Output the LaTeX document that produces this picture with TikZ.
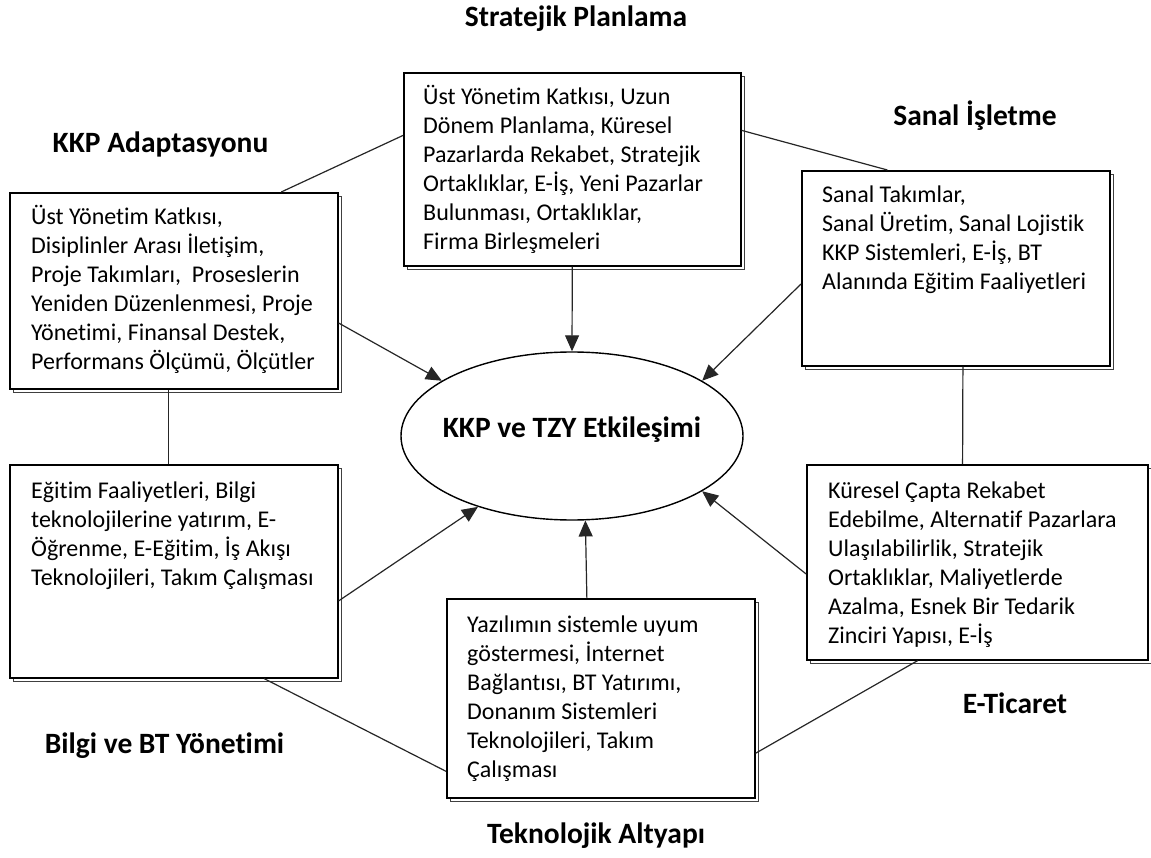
\documentclass[tikz,border=0pt]{standalone}
\usepackage{fontspec}
\setmainfont{Carlito}[Ligatures=NoCommon]
\usetikzlibrary{arrows.meta,calc,shadows,shapes.geometric}

\tikzset{
  panel/.style={draw=black, line width=1.6pt, fill=white, inner sep=0pt, anchor=north west,
    copy shadow={shadow xshift=3.5pt, shadow yshift=-3.5pt, draw=black!75, line width=1pt, fill=white}},
  boxtext/.style={inner sep=0pt, anchor=base west, font=\fontsize{24}{29}\selectfont},
  heading/.style={inner sep=0pt, anchor=base, font=\fontsize{29.5}{34}\selectfont\bfseries},
  link/.style={draw=black!85, line width=1.2pt},
  flow/.style={link, -{Triangle[length=16pt,width=14pt]}},
}

\newcommand{\boxlines}[1]{\parbox[t]{420pt}{\raggedright #1}}

\begin{document}
\begin{tikzpicture}[x=1pt,y=-1pt]
  \path[use as bounding box, fill=white] (0,0) rectangle (1151,858);

  % outer ring of boxes
  \node[panel, minimum width=328pt, minimum height=196pt] (A) at (9,192) {};
  \node[panel, minimum width=337pt, minimum height=193pt] (B) at (403,72) {};
  \node[panel, minimum width=308pt, minimum height=195pt] (C) at (801,170) {};
  \node[panel, minimum width=328pt, minimum height=213pt] (D) at (9,464) {};
  \node[panel, minimum width=308pt, minimum height=199pt] (T) at (446,598) {};
  \node[panel, minimum width=341pt, minimum height=195pt] (F) at (806,464) {};

  % box contents
  \node[boxtext] (At) at (31,225) {\boxlines{%
    Üst Yönetim Katkısı,\\
    Disiplinler Arası İletişim,\\
    Proje Takımları,\ \ Proseslerin\\
    Yeniden Düzenlenmesi, Proje\\
    Yönetimi, Finansal Destek,\\
    Performans Ölçümü, Ölçütler}};
  \node[boxtext] (Bt) at (423,105) {\boxlines{%
    Üst Yönetim Katkısı, Uzun\\
    Dönem Planlama, Küresel\\
    Pazarlarda Rekabet, Stratejik\\
    Ortaklıklar, E-İş, Yeni Pazarlar\\
    Bulunması, Ortaklıklar,\\
    Firma Birleşmeleri}};
  \node[boxtext] (Ct) at (822,203) {\boxlines{%
    Sanal Takımlar,\\
    Sanal Üretim, Sanal Lojistik\\
    KKP Sistemleri, E-İş, BT\\
    Alanında Eğitim Faaliyetleri}};
  \node[boxtext] (Dt) at (31,498) {\boxlines{%
    Eğitim Faaliyetleri, Bilgi\\
    teknolojilerine yatırım, E-\\
    Öğrenme, E-Eğitim, İş Akışı\\
    Teknolojileri, Takım Çalışması}};
  \node[boxtext] (Tt) at (467,632) {\boxlines{%
    Yazılımın sistemle uyum\\
    göstermesi, İnternet\\
    Bağlantısı, BT Yatırımı,\\
    Donanım Sistemleri\\
    Teknolojileri, Takım\\
    Çalışması}};
  \node[boxtext] (Ft) at (828,498) {\boxlines{%
    Küresel Çapta Rekabet\\
    Edebilme, Alternatif Pazarlara\\
    Ulaşılabilirlik, Stratejik\\
    Ortaklıklar, Maliyetlerde\\
    Azalma, Esnek Bir Tedarik\\
    Zinciri Yapısı, E-İş}};

  % central ellipse
  \node[ellipse, draw=black, line width=1.4pt, fill=white, minimum width=342pt, minimum height=168pt,
        inner sep=0pt, text height=12pt, text depth=10pt,
        font=\fontsize{29.5}{34}\selectfont\bfseries] (E) at (572,436)
        {\makebox[0pt]{KKP ve TZY Etkileşimi}};

  % headings
  \node[heading] (hSP) at (576,27) {Stratejik Planlama};
  \node[heading] (hKA) at (160.5,153) {KKP Adaptasyonu};
  \node[heading] (hSI) at (975,126) {Sanal İşletme};
  \node[heading] (hBB) at (164.5,753) {Bilgi ve BT Yönetimi};
  \node[heading] (hET) at (1015,713) {E-Ticaret};
  \node[heading] (hTA) at (596,843) {Teknolojik Altyapı};

  % ring connections between boxes
  \draw[link] ($(A.north west)!0.826!(A.north east)$) -- ($(B.north west)!0.326!(B.south west)$);
  \draw[link] ($(B.north east)!0.30!(B.south east)$) -- ($(C.north west)!0.279!(C.north east)$);
  \draw[link] ($(A.south west)!0.485!(A.south east)$) -- ($(D.north west)!0.485!(D.north east)$);
  \draw[link] ($(C.south west)!0.523!(C.south east)$) -- ($(F.north west)!0.457!(F.north east)$);
  \draw[link] ($(D.south west)!0.774!(D.south east)$) -- ($(T.north west)!0.864!(T.south west)$);
  \draw[link] ($(T.north east)!0.774!(T.south east)$) -- ($(F.south west)!0.326!(F.south east)$);

  % arrows into the centre
  \draw[flow] (B.south) -- (E.north);
  \draw[flow] ($(A.north east)!0.663!(A.south east)$) -- (E.157.7);
  \draw[flow] ($(C.north west)!0.58!(C.south west)$) -- (E.23);
  \draw[flow] ($(D.north east)!0.638!(D.south east)$) -- (E.217);
  \draw[flow] ($(F.north west)!0.559!(F.south west)$) -- (E.337.3);
  \draw[flow] ($(T.north west)!0.455!(T.north east)$) -- (E.279.5);
\end{tikzpicture}
\end{document}
